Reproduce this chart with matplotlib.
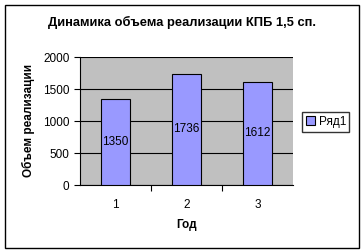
import matplotlib
matplotlib.use('Agg')
import matplotlib.pyplot as plt
from matplotlib.patches import Rectangle

years = ['1', '2', '3']
volumes = [1350, 1736, 1612]
yticks = [0, 500, 1000, 1500, 2000]

W, H = 363, 252
plt.rcParams['font.family'] = ['Liberation Sans', 'DejaVu Sans']

fig = plt.figure(figsize=(W / 100, H / 100), dpi=100)
fig.patches.append(Rectangle((5 / W, 4 / H), 354 / W, 243 / H, transform=fig.transFigure,
                             fill=False, edgecolor='black', linewidth=1.0))

ax = fig.add_axes([80 / W, (H - 185) / H, 213 / W, 128 / H])
ax.set_facecolor('#C0C0C0')
xs = range(len(years))
ax.bar(xs, volumes, width=0.4, color='#9999FF', edgecolor='black', linewidth=0.8,
       label='Ряд1', zorder=3)
for x, v in zip(xs, volumes):
    ax.text(x, v / 2, str(v), ha='center', va='center', fontsize=8.5, zorder=4)

ax.set_xlim(-0.5, len(years) - 0.5)
ax.set_ylim(0, 2000)
ax.set_yticks(yticks)
ax.yaxis.grid(True, color='black', linewidth=0.8, zorder=1)
ax.set_axisbelow(True)
ax.set_xticks([i + 0.5 for i in range(len(years) - 1)])
ax.set_xticklabels([])
ax.set_xticks(list(xs), minor=True)
ax.set_xticklabels(years, minor=True)
ax.tick_params(axis='x', which='major', length=4, direction='out')
ax.tick_params(axis='x', which='minor', length=0, pad=10, labelsize=8.5)
ax.tick_params(axis='y', length=4, direction='out', labelsize=8.5)
for s in ('top', 'right'):
    ax.spines[s].set_visible(False)

ax.set_xlabel('Год', fontsize=8.5, fontweight='bold', labelpad=6)
fig.text(28.5 / W, (H - 120) / H, 'Объем реализации', rotation=90, ha='center',
         va='center', fontsize=8.5, fontweight='bold')
fig.text(0.5, (H - 22) / H, 'Динамика объема реализации КПБ 1,5 сп.', ha='center',
         va='center', fontsize=9.3, fontweight='bold')

ax.legend(loc='center left', bbox_to_anchor=(302 / W, (H - 122) / H),
          bbox_transform=fig.transFigure, fontsize=8.5, frameon=True, fancybox=False,
          edgecolor='black', handlelength=0.8, handleheight=0.8, handletextpad=0.3,
          borderpad=0.3, borderaxespad=0)

fig.savefig('out.png', dpi=100)
